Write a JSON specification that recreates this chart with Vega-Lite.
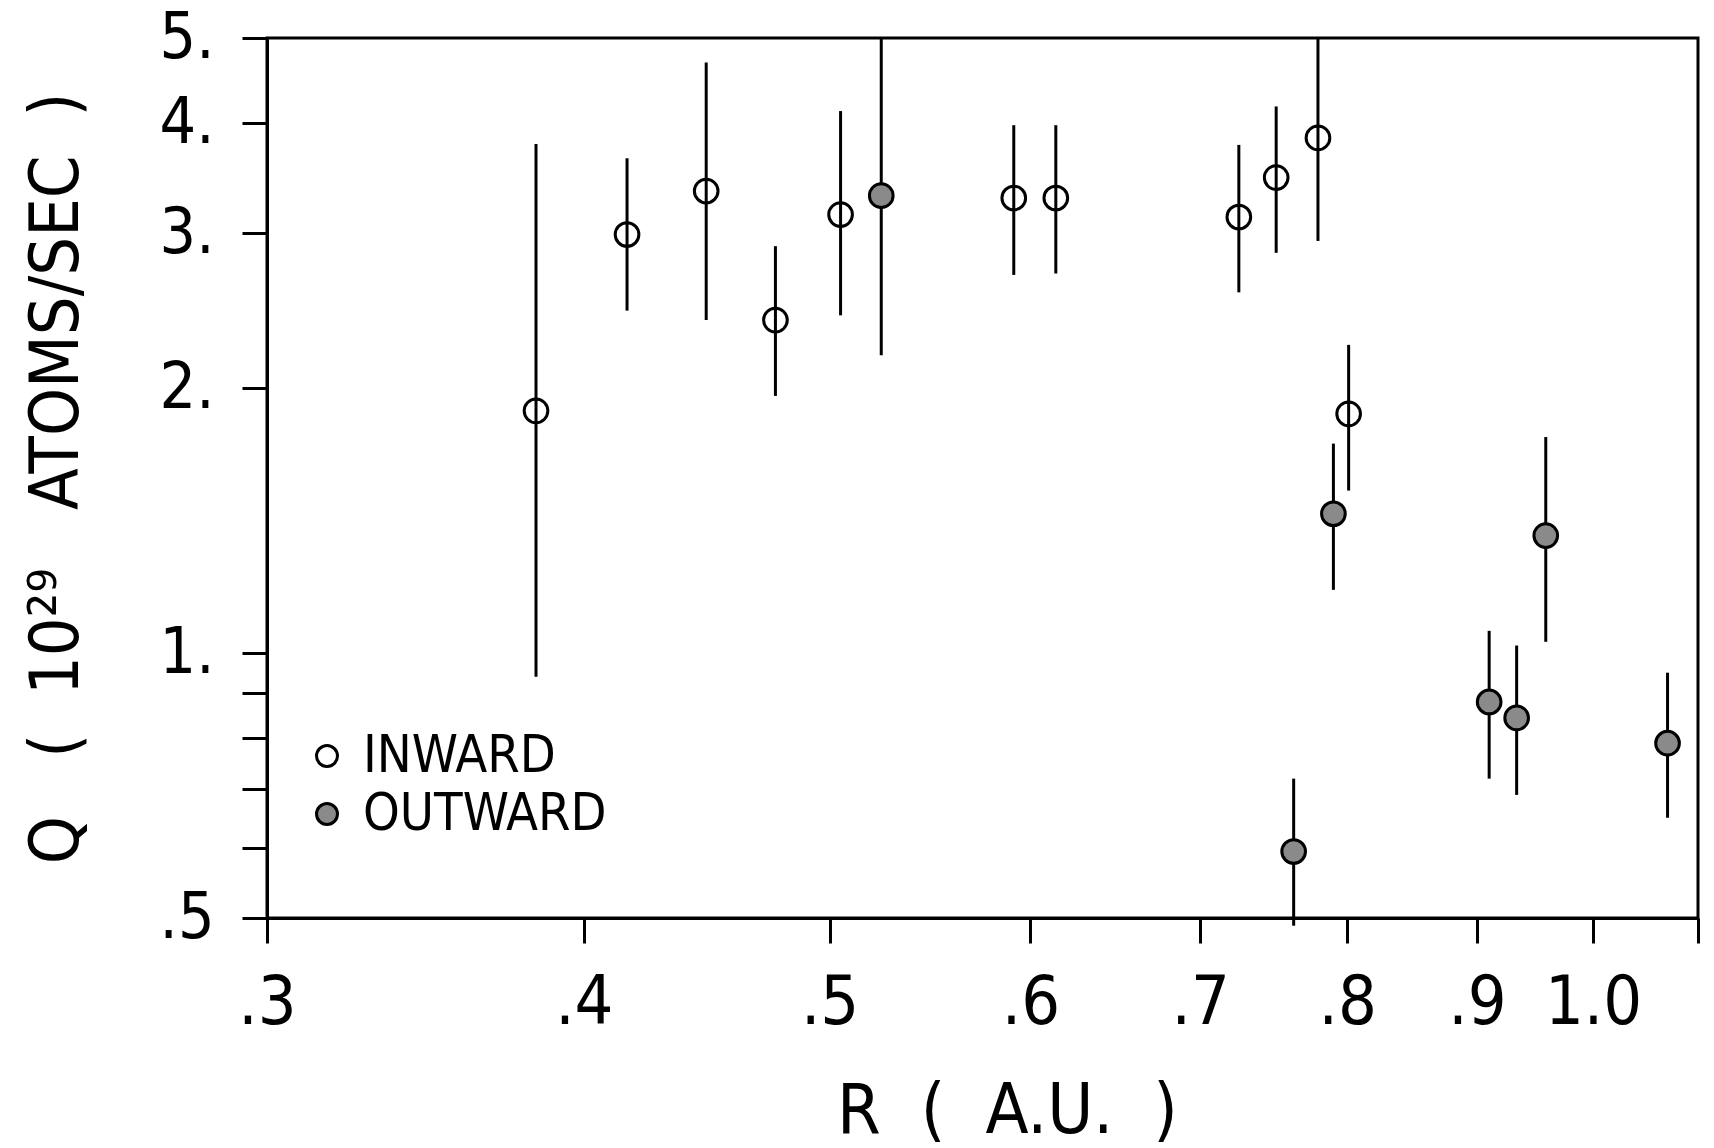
{
  "$schema": "https://vega.github.io/schema/vega-lite/v6.json",
  "width": 1431,
  "height": 880,
  "autosize": {"type": "none"},
  "padding": {"left": 267, "top": 38, "right": 16, "bottom": 230},
  "background": "white",
  "config": {
    "view": {"stroke": "black", "strokeWidth": 3},
    "font": "DejaVu Sans Condensed",
    "axis": {
      "domainColor": "black", "domainWidth": 3,
      "tickColor": "black", "tickWidth": 3, "tickSize": 25,
      "grid": false, "labelColor": "black", "titleColor": "black",
      "labelFont": "DejaVu Sans Condensed", "titleFont": "DejaVu Sans Condensed",
      "labelFontWeight": "normal", "titleFontWeight": "normal"
    }
  },
  "data": {
    "values": [
      {"r": 0.383, "q": 1.885, "lo": 0.94, "hi": 3.79, "dir": "INWARD"},
      {"r": 0.416, "q": 2.99, "lo": 2.45, "hi": 3.65, "dir": "INWARD"},
      {"r": 0.447, "q": 3.35, "lo": 2.39, "hi": 4.69, "dir": "INWARD"},
      {"r": 0.476, "q": 2.39, "lo": 1.96, "hi": 2.90, "dir": "INWARD"},
      {"r": 0.505, "q": 3.15, "lo": 2.42, "hi": 4.13, "dir": "INWARD"},
      {"r": 0.591, "q": 3.29, "lo": 2.69, "hi": 3.98, "dir": "INWARD"},
      {"r": 0.614, "q": 3.29, "lo": 2.70, "hi": 3.98, "dir": "INWARD"},
      {"r": 0.725, "q": 3.13, "lo": 2.57, "hi": 3.78, "dir": "INWARD"},
      {"r": 0.750, "q": 3.47, "lo": 2.85, "hi": 4.18, "dir": "INWARD"},
      {"r": 0.779, "q": 3.85, "lo": 2.94, "hi": 5.0, "dir": "INWARD"},
      {"r": 0.801, "q": 1.87, "lo": 1.53, "hi": 2.24, "dir": "INWARD"},
      {"r": 0.524, "q": 3.31, "lo": 2.18, "hi": 5.0, "dir": "OUTWARD"},
      {"r": 0.762, "q": 0.595, "lo": 0.49, "hi": 0.72, "dir": "OUTWARD"},
      {"r": 0.790, "q": 1.44, "lo": 1.18, "hi": 1.73, "dir": "OUTWARD"},
      {"r": 0.910, "q": 0.88, "lo": 0.72, "hi": 1.06, "dir": "OUTWARD"},
      {"r": 0.933, "q": 0.844, "lo": 0.69, "hi": 1.02, "dir": "OUTWARD"},
      {"r": 0.958, "q": 1.36, "lo": 1.03, "hi": 1.76, "dir": "OUTWARD"},
      {"r": 1.07, "q": 0.79, "lo": 0.65, "hi": 0.95, "dir": "OUTWARD"}
    ]
  },
  "layer": [
    {
      "mark": {"type": "rule", "color": "black", "strokeWidth": 3},
      "encoding": {
        "x": {"field": "r", "type": "quantitative", "scale": {"type": "log", "domain": [0.3, 1.1], "nice": false}},
        "y": {"field": "lo", "type": "quantitative", "scale": {"type": "log", "domain": [0.5, 5], "nice": false}},
        "y2": {"field": "hi"}
      }
    },
    {
      "mark": {"type": "point", "shape": "circle", "size": 560, "stroke": "black", "strokeWidth": 3, "opacity": 1, "filled": false},
      "encoding": {
        "x": {
          "field": "r", "type": "quantitative",
          "scale": {"type": "log", "domain": [0.3, 1.1], "nice": false},
          "axis": {
            "orient": "bottom",
            "values": [0.3, 0.4, 0.5, 0.6, 0.7, 0.8, 0.9, 1.0, 1.1],
            "labelExpr": "datum.value < 0.95 ? '.' + round(datum.value * 10) : (datum.value < 1.05 ? '1.0' : '')",
            "labelFontSize": 68, "labelPadding": 26, "labelOverlap": false, "labelFlush": false,
            "title": "R\u00a0\u00a0(\u00a0\u00a0A.U.\u00a0\u00a0)", "titleFontSize": 70,
            "titleX": 740, "titleY": 214, "titleBaseline": "alphabetic", "titleAlign": "center"
          }
        },
        "y": {
          "field": "q", "type": "quantitative",
          "scale": {"type": "log", "domain": [0.5, 5], "nice": false},
          "axis": {
            "orient": "left",
            "values": [0.5, 0.6, 0.7, 0.8, 0.9, 1, 2, 3, 4, 5],
            "labelExpr": "datum.value == 0.5 ? '.5' : (datum.value >= 1 ? datum.value + '.' : '')",
            "labelFontSize": 64, "labelPadding": 28, "labelOverlap": false, "labelFlush": false,
            "title": "Q\u00a0\u00a0\u00a0(\u00a0\u00a010²⁹\u00a0\u00a0\u00a0ATOMS/SEC\u00a0\u00a0)", "titleFontSize": 68,
            "titleX": -210, "titleY": 440, "titleBaseline": "middle", "titleAlign": "center", "titleAngle": -90
          }
        },
        "fill": {
          "field": "dir", "type": "nominal",
          "scale": {"domain": ["INWARD", "OUTWARD"], "range": ["rgba(255,255,255,0)", "#8a8a8a"]},
          "legend": {
            "title": null, "orient": "none", "legendX": 34, "legendY": 692,
            "labelFontSize": 52, "labelFont": "DejaVu Sans Condensed", "labelColor": "black", "labelLimit": 0,
            "symbolType": "circle", "symbolSize": 440, "symbolStrokeColor": "black", "symbolStrokeWidth": 3,
            "labelOffset": 10, "rowPadding": 6, "symbolOpacity": 1
          }
        }
      }
    }
  ]
}
